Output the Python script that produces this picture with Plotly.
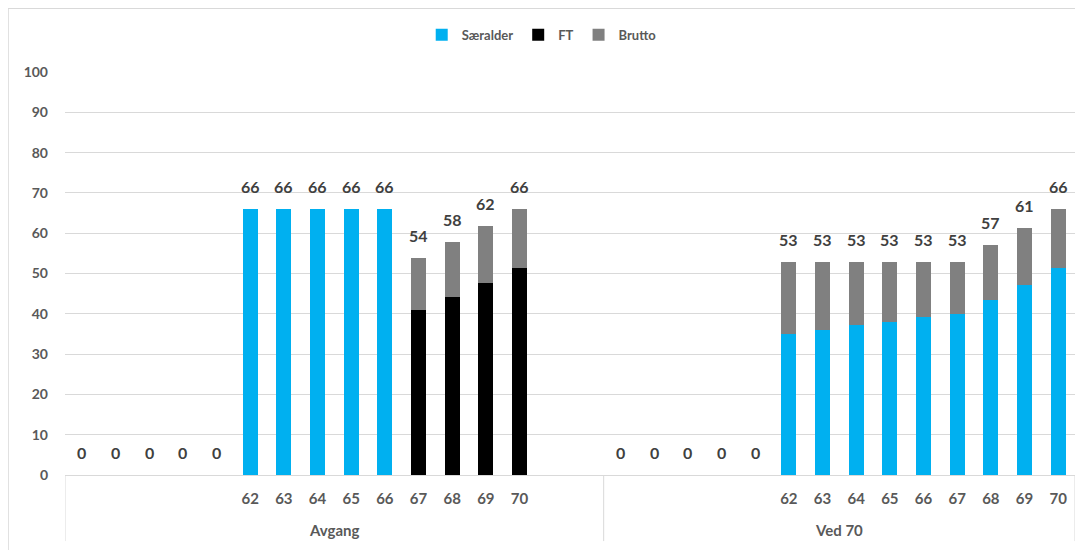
import plotly.graph_objects as go

# ---- data ----
groups = ["Avgang", "Ved 70"]

avgang_ages = ["", "", "", "", "", "62", "63", "64", "65", "66", "67", "68", "69", "70", "", ""]
avgang_saeralder = [0, 0, 0, 0, 0, 66.1, 66.1, 66.1, 66.1, 66.1, 0, 0, 0, 0, None, None]
avgang_ft = [0, 0, 0, 0, 0, 0, 0, 0, 0, 0, 41.0, 44.2, 47.6, 51.4, None, None]
avgang_brutto = [0, 0, 0, 0, 0, 0, 0, 0, 0, 0, 12.8, 13.5, 14.2, 14.7, None, None]

ved70_ages = ["", "", "", "", "", "62", "63", "64", "65", "66", "67", "68", "69", "70"]
ved70_saeralder = [0, 0, 0, 0, 0, 35.0, 36.0, 37.1, 38.0, 39.1, 40.0, 43.5, 47.2, 51.4]
ved70_ft = [0, 0, 0, 0, 0, 0, 0, 0, 0, 0, 0, 0, 0, 0]
ved70_brutto = [0, 0, 0, 0, 0, 17.9, 16.9, 15.8, 14.9, 13.8, 12.9, 13.5, 14.2, 14.7]

series_names = ["Særalder", "FT", "Brutto"]
series_colors = ["#00B0F0", "#000000", "#808080"]

# ---- assemble ----
ages = avgang_ages + ved70_ages
saeralder = avgang_saeralder + ved70_saeralder
ft = avgang_ft + ved70_ft
brutto = avgang_brutto + ved70_brutto
group_sizes = [len(avgang_ages), len(ved70_ages)]
xs = list(range(len(ages)))

FONT = "Lato"
TXT = "#595959"

fig = go.Figure()
for name, vals, col in zip(series_names, [saeralder, ft, brutto], series_colors):
    fig.add_trace(go.Bar(x=xs, y=vals, name=name, marker=dict(color=col, line=dict(width=0)),
                         width=0.45, hoverinfo="skip"))

annotations = []
for i, (a, b, c) in enumerate(zip(saeralder, ft, brutto)):
    if a is None:
        continue
    tot = a + b + c
    annotations.append(dict(x=i, y=tot, xref="x", yref="y", text=f"{round(tot)}",
                            showarrow=False, yanchor="bottom", yshift=11,
                            font=dict(family=FONT, size=16, color="#404040", weight="bold")))

# group labels and dividers
shapes = []
start = -0.5
for g, n in zip(groups, group_sizes):
    end = start + n
    annotations.append(dict(x=(start + end) / 2, y=-0.137, xref="x", yref="paper", text=g,
                            showarrow=False, yanchor="middle",
                            font=dict(family=FONT, size=15, color=TXT, weight="bold")))
    shapes.append(dict(type="line", xref="x", yref="paper", x0=start, x1=start, y0=0, y1=-0.164,
                       line=dict(color="#D9D9D9", width=1)))
    start = end
shapes.append(dict(type="line", xref="x", yref="paper", x0=start, x1=start, y0=0, y1=-0.164,
                   line=dict(color="#D9D9D9", width=1)))
# chart border
shapes.append(dict(type="rect", xref="paper", yref="paper", x0=-0.0564, x1=1.03, y0=-0.25, y1=1.158,
                   line=dict(color="#D9D9D9", width=1.5), layer="below"))

fig.update_layout(
    width=1075, height=542,
    margin=dict(l=57, r=8, t=64, b=75),
    paper_bgcolor="white", plot_bgcolor="white",
    barmode="stack",
    font=dict(family=FONT, color=TXT),
    showlegend=True,
    legend=dict(orientation="h", x=0.472, xanchor="center", y=1.092, yanchor="middle",
                font=dict(family=FONT, size=13, color=TXT, weight="bold"),
                itemwidth=30, traceorder="normal"),
    xaxis=dict(range=[-0.5, len(ages) - 0.5], tickmode="array", tickvals=xs, ticktext=ages,
               showgrid=False, zeroline=False, showline=True, linecolor="#D9D9D9", linewidth=1,
               ticks="", ticklabelstandoff=10,
               tickfont=dict(family=FONT, size=15, color=TXT, weight="bold")),
    yaxis=dict(range=[0, 100], dtick=10, showgrid=True, gridcolor="#D9D9D9", gridwidth=1,
               zeroline=False, showline=False, ticks="", ticklabelstandoff=16,
               tickfont=dict(family=FONT, size=14, color=TXT, weight="bold")),
    annotations=annotations,
    shapes=shapes,
)

fig.write_html("out.html")
